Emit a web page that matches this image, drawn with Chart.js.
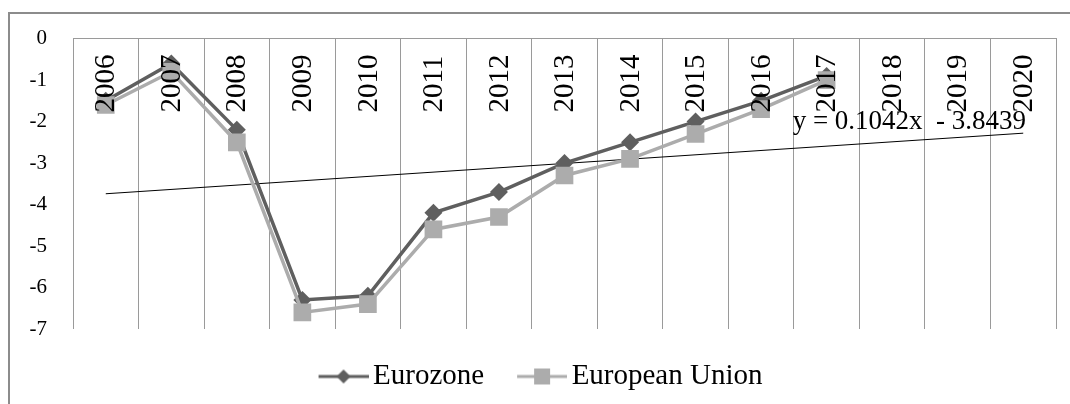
<!DOCTYPE html>
<html>
<head>
<meta charset="utf-8">
<script src="https://cdn.jsdelivr.net/npm/chart.js@4"></script>
<style>
    body { margin: 0; background: #fff; }
    #wrap { position: relative; width: 1070px; height: 404px; overflow: hidden; }
    #frame {
        position: absolute; left: 8px; top: 12px; width: 2000px; height: 2000px;
        border-left: 2px solid #8c8c8c; border-top: 2px solid #8c8c8c;
    }
    canvas { position: absolute; left: 0; top: 0; }
</style>
</head>
<body>
<div id="wrap">
    <div id="frame"></div>
    <canvas id="deficitChart" width="1070" height="404"></canvas>
</div>
<script>
const years = ['2006', '2007', '2008', '2009', '2010', '2011', '2012', '2013', '2014', '2015', '2016', '2017', '2018', '2019', '2020'];
const eurozone = [-1.5, -0.6, -2.2, -6.3, -6.2, -4.2, -3.7, -3.0, -2.5, -2.0, -1.5, -0.9, null, null, null];
const europeanUnion = [-1.6, -0.8, -2.5, -6.6, -6.4, -4.6, -4.3, -3.3, -2.9, -2.3, -1.7, -1.0, null, null, null];
// linear trend, only the two ends are needed
const trend = [-3.74, null, null, null, null, null, null, null, null, null, null, null, null, null, -2.28];
const trendLabel = 'y = 0.1042x  - 3.8439';
const yTicks = [0, -1, -2, -3, -4, -5, -6, -7];

const serif = "'Liberation Serif', 'Times New Roman', serif";
const darkGrey = '#5f5f5f';
const lightGrey = '#acacac';

// legend icon: short line with the marker in the middle
function legendIcon(color, marker) {
    const c = document.createElement('canvas');
    c.width = 60;
    c.height = 20;
    const g = c.getContext('2d');
    g.strokeStyle = color;
    g.lineWidth = 3;
    g.beginPath();
    g.moveTo(10, 10);
    g.lineTo(60, 10);
    g.stroke();
    g.fillStyle = color;
    if (marker === 'diamond') {
        g.beginPath();
        g.moveTo(35, 3); g.lineTo(42, 10); g.lineTo(35, 17); g.lineTo(28, 10);
        g.closePath();
        g.fill();
    } else {
        g.fillRect(27, 2, 16, 16);
    }
    return c;
}

const yearLabels = {
    id: 'yearLabels',
    afterDatasetsDraw(chart) {
        const ctx = chart.ctx;
        const x = chart.scales.x;
        const top = chart.chartArea.top;
        ctx.save();
        ctx.fillStyle = '#000';
        ctx.font = '29px ' + serif;
        ctx.textAlign = 'left';
        ctx.textBaseline = 'middle';
        years.forEach((yr, i) => {
            ctx.save();
            ctx.translate(x.getPixelForValue(i), top + 74);
            ctx.rotate(-Math.PI / 2);
            ctx.fillText(yr, 0, 1);
            ctx.restore();
        });
        ctx.restore();
    }
};

const trendText = {
    id: 'trendText',
    afterDatasetsDraw(chart) {
        const ctx = chart.ctx;
        const x = chart.scales.x;
        const y = chart.scales.y;
        ctx.save();
        ctx.fillStyle = '#000';
        ctx.font = '27px ' + serif;
        ctx.textAlign = 'left';
        ctx.textBaseline = 'middle';
        ctx.fillText(trendLabel, x.getPixelForValue(11) - 34, y.getPixelForValue(-2.02));
        ctx.restore();
    }
};

const ctx = document.getElementById('deficitChart').getContext('2d');

new Chart(ctx, {
    type: 'line',
    data: {
        labels: years,
        datasets: [{
            label: 'Eurozone',
            data: eurozone,
            borderColor: darkGrey,
            backgroundColor: darkGrey,
            borderWidth: 3.5,
            pointStyle: 'rectRot',
            pointRadius: 9,
            pointBorderWidth: 0,
            order: 1
        }, {
            label: 'European Union',
            data: europeanUnion,
            borderColor: lightGrey,
            backgroundColor: lightGrey,
            borderWidth: 3.5,
            pointStyle: 'rect',
            pointRadius: 12.5,
            pointBorderWidth: 0,
            order: 0
        }, {
            label: 'trend',
            data: trend,
            borderColor: '#000',
            borderWidth: 1,
            pointRadius: 0,
            spanGaps: true,
            order: 2
        }]
    },
    options: {
        responsive: false,
        animation: false,
        events: [],
        layout: {
            padding: { top: 38, left: 25, right: 14, bottom: 3 }
        },
        scales: {
            x: {
                position: 'top',
                offset: true,
                grid: { offset: true, color: '#9a9a9a', lineWidth: 1, drawTicks: false },
                border: { display: true, color: '#9a9a9a', width: 1 },
                ticks: { display: false }
            },
            y: {
                min: -7,
                max: 0,
                afterBuildTicks: scale => {
                    scale.ticks = yTicks.map(v => ({ value: v }));
                },
                afterFit: scale => {
                    scale.width = 48;
                },
                grid: { display: false, drawTicks: false },
                border: { display: false },
                ticks: {
                    color: '#000',
                    padding: 26,
                    font: { family: serif, size: 21 }
                }
            }
        },
        plugins: {
            legend: {
                position: 'bottom',
                labels: {
                    color: '#000',
                    font: { family: serif, size: 29 },
                    usePointStyle: true,
                    pointStyleWidth: 40,
                    padding: 33,
                    filter: item => item.text !== 'trend',
                    sort: (a, b) => a.datasetIndex - b.datasetIndex,
                    generateLabels: chart => {
                        const items = Chart.defaults.plugins.legend.labels.generateLabels(chart);
                        items.forEach(item => {
                            if (item.text === 'Eurozone') item.pointStyle = legendIcon(darkGrey, 'diamond');
                            if (item.text === 'European Union') item.pointStyle = legendIcon(lightGrey, 'square');
                        });
                        return items;
                    }
                }
            },
            tooltip: { enabled: false }
        }
    },
    plugins: [yearLabels, trendText]
});
</script>
</body>
</html>
